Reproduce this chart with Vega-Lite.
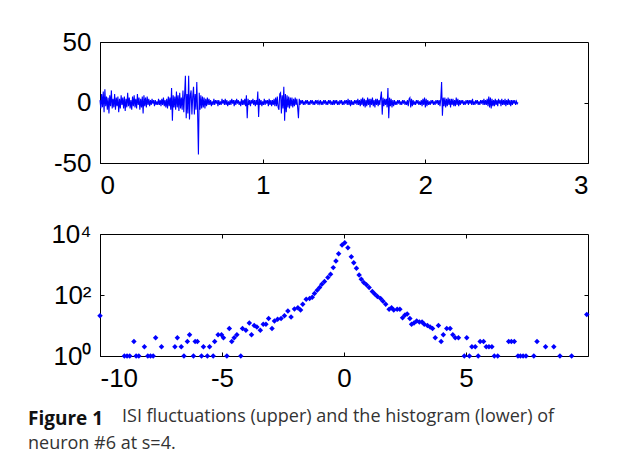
{
  "$schema": "https://vega.github.io/schema/vega-lite/v6.json",
  "autosize": {"type": "pad"},
  "padding": {"left": 27, "top": 28, "right": 5, "bottom": 5},
  "background": "white",
  "spacing": 71,
  "bounds": "flush",
  "title": {"text": "ISI fluctuations (upper) and the histogram (lower) of", "orient": "bottom", "anchor": "start", "frame": "group", "dx": 22, "dy": -50, "font": "Open Sans", "fontSize": 18, "fontWeight": "normal", "color": "#333333"},
  "config": {
    "view": {"stroke": "#000000", "strokeWidth": 1},
    "axis": {"labelFont": "Liberation Sans", "labelFontSize": 26, "labelColor": "#000000", "domainColor": "#000000", "tickColor": "#000000", "tickSize": -4, "labelPadding": 13, "grid": false, "title": null, "labelExpr": "'' + datum.value"}
  },
  "datasets": {
    "sig": [
      {"t":0,"v":2},{"t":0.005,"v":-5},{"t":0.01,"v":7},{"t":0.015,"v":-4},{"t":0.02,"v":9},{"t":0.025,"v":-8},{"t":0.03,"v":11},{"t":0.035,"v":-3},{"t":0.04,"v":5},{"t":0.045,"v":-6},
      {"t":0.05,"v":4},{"t":0.055,"v":-9},{"t":0.06,"v":6},{"t":0.065,"v":-3},{"t":0.07,"v":10},{"t":0.075,"v":-5},{"t":0.08,"v":3},{"t":0.085,"v":-4},{"t":0.09,"v":7},{"t":0.095,"v":-6},
      {"t":0.1,"v":4},{"t":0.105,"v":-3},{"t":0.11,"v":5},{"t":0.115,"v":-8},{"t":0.12,"v":3},{"t":0.125,"v":-5},{"t":0.13,"v":6},{"t":0.135,"v":-2},{"t":0.14,"v":4},{"t":0.145,"v":-5},
      {"t":0.15,"v":5},{"t":0.155,"v":-7},{"t":0.16,"v":3},{"t":0.165,"v":-4},{"t":0.17,"v":8},{"t":0.175,"v":-3},{"t":0.18,"v":4},{"t":0.185,"v":-5},{"t":0.19,"v":2},{"t":0.195,"v":-6},
      {"t":0.2,"v":5},{"t":0.205,"v":-3},{"t":0.21,"v":6},{"t":0.215,"v":-4},{"t":0.22,"v":3},{"t":0.225,"v":-5},{"t":0.23,"v":7},{"t":0.235,"v":-2},{"t":0.24,"v":4},{"t":0.245,"v":-6},
      {"t":0.25,"v":3},{"t":0.255,"v":-4},{"t":0.26,"v":5},{"t":0.265,"v":-9},{"t":0.27,"v":6},{"t":0.275,"v":-3},{"t":0.28,"v":4},{"t":0.285,"v":-4},{"t":0.29,"v":5},{"t":0.295,"v":-2},
      {"t":0.3,"v":3},{"t":0.305,"v":-3},{"t":0.31,"v":2},{"t":0.315,"v":-2},{"t":0.32,"v":3},{"t":0.325,"v":-1},{"t":0.33,"v":2},{"t":0.335,"v":-3},{"t":0.34,"v":2},{"t":0.345,"v":-2},
      {"t":0.35,"v":1},{"t":0.355,"v":-2},{"t":0.36,"v":3},{"t":0.365,"v":-2},{"t":0.37,"v":2},{"t":0.375,"v":-3},{"t":0.38,"v":3},{"t":0.385,"v":-2},{"t":0.39,"v":4},{"t":0.395,"v":-3},
      {"t":0.4,"v":2},{"t":0.405,"v":-4},{"t":0.41,"v":3},{"t":0.415,"v":-5},{"t":0.42,"v":5},{"t":0.425,"v":-3},{"t":0.43,"v":4},{"t":0.435,"v":-6},{"t":0.44,"v":12},{"t":0.445,"v":-15},
      {"t":0.45,"v":6},{"t":0.455,"v":-4},{"t":0.46,"v":5},{"t":0.465,"v":-6},{"t":0.47,"v":9},{"t":0.475,"v":-4},{"t":0.48,"v":6},{"t":0.485,"v":-7},{"t":0.49,"v":8},{"t":0.495,"v":-5},
      {"t":0.5,"v":4},{"t":0.505,"v":-6},{"t":0.51,"v":10},{"t":0.515,"v":-8},{"t":0.52,"v":6},{"t":0.525,"v":22},{"t":0.53,"v":-13},{"t":0.535,"v":7},{"t":0.54,"v":-9},{"t":0.545,"v":22},
      {"t":0.55,"v":-14},{"t":0.555,"v":6},{"t":0.56,"v":10},{"t":0.565,"v":-10},{"t":0.57,"v":5},{"t":0.575,"v":13},{"t":0.58,"v":-10},{"t":0.585,"v":7},{"t":0.59,"v":-6},{"t":0.595,"v":17},
      {"t":0.6,"v":-8},{"t":0.605,"v":-43},{"t":0.61,"v":8},{"t":0.615,"v":-6},{"t":0.62,"v":6},{"t":0.625,"v":-5},{"t":0.63,"v":5},{"t":0.635,"v":-4},{"t":0.64,"v":4},{"t":0.645,"v":-5},
      {"t":0.65,"v":3},{"t":0.655,"v":-3},{"t":0.66,"v":4},{"t":0.665,"v":-2},{"t":0.67,"v":3},{"t":0.675,"v":-2},{"t":0.68,"v":2},{"t":0.685,"v":-3},{"t":0.69,"v":1},{"t":0.695,"v":-2},
      {"t":0.7,"v":3},{"t":0.705,"v":-2},{"t":0.71,"v":2},{"t":0.715,"v":-1},{"t":0.72,"v":2},{"t":0.725,"v":-3},{"t":0.73,"v":2},{"t":0.735,"v":-2},{"t":0.74,"v":1},{"t":0.745,"v":-2},
      {"t":0.75,"v":3},{"t":0.755,"v":-1},{"t":0.76,"v":2},{"t":0.765,"v":-2},{"t":0.77,"v":3},{"t":0.775,"v":-2},{"t":0.78,"v":2},{"t":0.785,"v":-3},{"t":0.79,"v":1},{"t":0.795,"v":-2},
      {"t":0.8,"v":2},{"t":0.805,"v":-2},{"t":0.81,"v":3},{"t":0.815,"v":-1},{"t":0.82,"v":2},{"t":0.825,"v":-3},{"t":0.83,"v":2},{"t":0.835,"v":-2},{"t":0.84,"v":3},{"t":0.845,"v":-1},
      {"t":0.85,"v":2},{"t":0.855,"v":-2},{"t":0.86,"v":1},{"t":0.865,"v":-3},{"t":0.87,"v":3},{"t":0.875,"v":-2},{"t":0.88,"v":2},{"t":0.885,"v":-2},{"t":0.89,"v":3},{"t":0.895,"v":-3},
      {"t":0.9,"v":6},{"t":0.905,"v":-13},{"t":0.91,"v":3},{"t":0.915,"v":-2},{"t":0.92,"v":2},{"t":0.925,"v":-3},{"t":0.93,"v":2},{"t":0.935,"v":-1},{"t":0.94,"v":3},{"t":0.945,"v":-2},
      {"t":0.95,"v":2},{"t":0.955,"v":-3},{"t":0.96,"v":2},{"t":0.965,"v":-2},{"t":0.97,"v":9},{"t":0.975,"v":-12},{"t":0.98,"v":3},{"t":0.985,"v":-2},{"t":0.99,"v":2},{"t":0.995,"v":-3},
      {"t":1.0,"v":1},{"t":1.005,"v":-2},{"t":1.01,"v":3},{"t":1.015,"v":-2},{"t":1.02,"v":2},{"t":1.025,"v":-1},{"t":1.03,"v":2},{"t":1.035,"v":-3},{"t":1.04,"v":3},{"t":1.045,"v":-2},
      {"t":1.05,"v":2},{"t":1.055,"v":-3},{"t":1.06,"v":2},{"t":1.065,"v":-2},{"t":1.07,"v":3},{"t":1.075,"v":-3},{"t":1.08,"v":4},{"t":1.085,"v":-3},{"t":1.09,"v":5},{"t":1.095,"v":-4},
      {"t":1.1,"v":-6},{"t":1.105,"v":7},{"t":1.11,"v":8},{"t":1.115,"v":-9},{"t":1.12,"v":6},{"t":1.125,"v":-5},{"t":1.13,"v":13},{"t":1.135,"v":-15},{"t":1.14,"v":7},{"t":1.145,"v":-8},
      {"t":1.15,"v":6},{"t":1.155,"v":-4},{"t":1.16,"v":5},{"t":1.165,"v":-5},{"t":1.17,"v":4},{"t":1.175,"v":-3},{"t":1.18,"v":4},{"t":1.185,"v":-4},{"t":1.19,"v":3},{"t":1.195,"v":-3},
      {"t":1.2,"v":4},{"t":1.205,"v":-2},{"t":1.21,"v":3},{"t":1.215,"v":-4},{"t":1.22,"v":-13},{"t":1.225,"v":3},{"t":1.23,"v":-2},{"t":1.235,"v":2},{"t":1.24,"v":-1},{"t":1.245,"v":2},
      {"t":1.25,"v":-2},{"t":1.255,"v":1},{"t":1.26,"v":-2},{"t":1.265,"v":2},{"t":1.27,"v":-1},{"t":1.275,"v":2},{"t":1.28,"v":-2},{"t":1.285,"v":1},{"t":1.29,"v":-2},{"t":1.295,"v":2},
      {"t":1.3,"v":-1},{"t":1.305,"v":2},{"t":1.31,"v":-2},{"t":1.315,"v":1},{"t":1.32,"v":-2},{"t":1.325,"v":2},{"t":1.33,"v":-1},{"t":1.335,"v":2},{"t":1.34,"v":-2},{"t":1.345,"v":1},
      {"t":1.35,"v":-1},{"t":1.355,"v":2},{"t":1.36,"v":-2},{"t":1.365,"v":1},{"t":1.37,"v":-2},{"t":1.375,"v":2},{"t":1.38,"v":-1},{"t":1.385,"v":2},{"t":1.39,"v":-2},{"t":1.395,"v":1},
      {"t":1.4,"v":-2},{"t":1.405,"v":2},{"t":1.41,"v":-1},{"t":1.415,"v":2},{"t":1.42,"v":-2},{"t":1.425,"v":1},{"t":1.43,"v":-2},{"t":1.435,"v":2},{"t":1.44,"v":-2},{"t":1.445,"v":2},
      {"t":1.45,"v":-1},{"t":1.455,"v":2},{"t":1.46,"v":-2},{"t":1.465,"v":1},{"t":1.47,"v":-2},{"t":1.475,"v":2},{"t":1.48,"v":-1},{"t":1.485,"v":2},{"t":1.49,"v":-2},{"t":1.495,"v":1},
      {"t":1.5,"v":-2},{"t":1.505,"v":2},{"t":1.51,"v":-1},{"t":1.515,"v":2},{"t":1.52,"v":-2},{"t":1.525,"v":3},{"t":1.53,"v":-2},{"t":1.535,"v":2},{"t":1.54,"v":-3},{"t":1.545,"v":2},
      {"t":1.55,"v":-2},{"t":1.555,"v":1},{"t":1.56,"v":-2},{"t":1.565,"v":2},{"t":1.57,"v":-1},{"t":1.575,"v":2},{"t":1.58,"v":-2},{"t":1.585,"v":3},{"t":1.59,"v":-2},{"t":1.595,"v":2},
      {"t":1.6,"v":-3},{"t":1.605,"v":3},{"t":1.61,"v":-2},{"t":1.615,"v":4},{"t":1.62,"v":-3},{"t":1.625,"v":3},{"t":1.63,"v":-4},{"t":1.635,"v":2},{"t":1.64,"v":-3},{"t":1.645,"v":4},
      {"t":1.65,"v":-2},{"t":1.655,"v":3},{"t":1.66,"v":-4},{"t":1.665,"v":3},{"t":1.67,"v":-2},{"t":1.675,"v":4},{"t":1.68,"v":-3},{"t":1.685,"v":2},{"t":1.69,"v":-4},{"t":1.695,"v":3},
      {"t":1.7,"v":-2},{"t":1.705,"v":3},{"t":1.71,"v":-3},{"t":1.715,"v":2},{"t":1.72,"v":-2},{"t":1.725,"v":4},{"t":1.73,"v":9},{"t":1.735,"v":-10},{"t":1.74,"v":4},{"t":1.745,"v":-3},
      {"t":1.75,"v":3},{"t":1.755,"v":-2},{"t":1.76,"v":3},{"t":1.765,"v":-4},{"t":1.77,"v":12},{"t":1.775,"v":-13},{"t":1.78,"v":4},{"t":1.785,"v":-3},{"t":1.79,"v":3},{"t":1.795,"v":-4},
      {"t":1.8,"v":2},{"t":1.805,"v":-3},{"t":1.81,"v":2},{"t":1.815,"v":-2},{"t":1.82,"v":1},{"t":1.825,"v":-2},{"t":1.83,"v":2},{"t":1.835,"v":-1},{"t":1.84,"v":2},{"t":1.845,"v":-2},
      {"t":1.85,"v":1},{"t":1.855,"v":-2},{"t":1.86,"v":2},{"t":1.865,"v":-1},{"t":1.87,"v":2},{"t":1.875,"v":-2},{"t":1.88,"v":1},{"t":1.885,"v":-2},{"t":1.89,"v":2},{"t":1.895,"v":-3},
      {"t":1.9,"v":3},{"t":1.905,"v":4},{"t":1.91,"v":-4},{"t":1.915,"v":3},{"t":1.92,"v":-3},{"t":1.925,"v":2},{"t":1.93,"v":-2},{"t":1.935,"v":1},{"t":1.94,"v":-2},{"t":1.945,"v":2},
      {"t":1.95,"v":-1},{"t":1.955,"v":2},{"t":1.96,"v":-2},{"t":1.965,"v":1},{"t":1.97,"v":-2},{"t":1.975,"v":2},{"t":1.98,"v":-3},{"t":1.985,"v":3},{"t":1.99,"v":-2},{"t":1.995,"v":4},
      {"t":2.0,"v":-4},{"t":2.005,"v":3},{"t":2.01,"v":-3},{"t":2.015,"v":2},{"t":2.02,"v":-2},{"t":2.025,"v":1},{"t":2.03,"v":-2},{"t":2.035,"v":2},{"t":2.04,"v":-1},{"t":2.045,"v":2},
      {"t":2.05,"v":-2},{"t":2.055,"v":1},{"t":2.06,"v":-2},{"t":2.065,"v":2},{"t":2.07,"v":-1},{"t":2.075,"v":2},{"t":2.08,"v":-2},{"t":2.085,"v":2},{"t":2.09,"v":-3},{"t":2.095,"v":3},
      {"t":2.1,"v":17},{"t":2.105,"v":-11},{"t":2.11,"v":4},{"t":2.115,"v":-3},{"t":2.12,"v":4},{"t":2.125,"v":-4},{"t":2.13,"v":3},{"t":2.135,"v":-3},{"t":2.14,"v":4},{"t":2.145,"v":-2},
      {"t":2.15,"v":3},{"t":2.155,"v":-4},{"t":2.16,"v":3},{"t":2.165,"v":-2},{"t":2.17,"v":3},{"t":2.175,"v":-3},{"t":2.18,"v":2},{"t":2.185,"v":-3},{"t":2.19,"v":4},{"t":2.195,"v":-2},
      {"t":2.2,"v":3},{"t":2.205,"v":-3},{"t":2.21,"v":2},{"t":2.215,"v":-2},{"t":2.22,"v":2},{"t":2.225,"v":-1},{"t":2.23,"v":2},{"t":2.235,"v":-2},{"t":2.24,"v":1},{"t":2.245,"v":-2},
      {"t":2.25,"v":2},{"t":2.255,"v":-1},{"t":2.26,"v":2},{"t":2.265,"v":-2},{"t":2.27,"v":2},{"t":2.275,"v":-1},{"t":2.28,"v":2},{"t":2.285,"v":-2},{"t":2.29,"v":3},{"t":2.295,"v":-2},
      {"t":2.3,"v":1},{"t":2.305,"v":-2},{"t":2.31,"v":2},{"t":2.315,"v":-1},{"t":2.32,"v":2},{"t":2.325,"v":-2},{"t":2.33,"v":1},{"t":2.335,"v":-2},{"t":2.34,"v":2},{"t":2.345,"v":-1},
      {"t":2.35,"v":2},{"t":2.355,"v":-2},{"t":2.36,"v":3},{"t":2.365,"v":-2},{"t":2.37,"v":2},{"t":2.375,"v":-2},{"t":2.38,"v":3},{"t":2.385,"v":-3},{"t":2.39,"v":5},{"t":2.395,"v":-4},
      {"t":2.4,"v":4},{"t":2.405,"v":-5},{"t":2.41,"v":3},{"t":2.415,"v":-3},{"t":2.42,"v":2},{"t":2.425,"v":-3},{"t":2.43,"v":3},{"t":2.435,"v":-2},{"t":2.44,"v":2},{"t":2.445,"v":-3},
      {"t":2.45,"v":3},{"t":2.455,"v":-1},{"t":2.46,"v":2},{"t":2.465,"v":-3},{"t":2.47,"v":3},{"t":2.475,"v":-2},{"t":2.48,"v":2},{"t":2.485,"v":-2},{"t":2.49,"v":3},{"t":2.495,"v":-3},
      {"t":2.5,"v":2},{"t":2.505,"v":-2},{"t":2.51,"v":3},{"t":2.515,"v":-2},{"t":2.52,"v":2},{"t":2.525,"v":-3},{"t":2.53,"v":2},{"t":2.535,"v":-2},{"t":2.54,"v":2},{"t":2.545,"v":-1},
      {"t":2.55,"v":2},{"t":2.555,"v":-2},{"t":2.56,"v":1},{"t":2.565,"v":-1},{"t":2.57,"v":0}
    ],
    "hist": [
      {"x":-10,"c":21},
      {"x":-9.0,"c":1},{"x":-8.89,"c":1},{"x":-8.78,"c":1},{"x":-8.61,"c":3},{"x":-8.52,"c":1},{"x":-8.41,"c":1},{"x":-8.18,"c":2},{"x":-8.04,"c":1},{"x":-7.93,"c":1},{"x":-7.82,"c":1},
      {"x":-7.72,"c":4},{"x":-7.48,"c":2},{"x":-6.93,"c":2},{"x":-6.83,"c":4},{"x":-6.67,"c":2},{"x":-6.56,"c":1},{"x":-6.42,"c":3},{"x":-6.33,"c":5},{"x":-6.17,"c":1},{"x":-6.10,"c":3},
      {"x":-6.01,"c":3},{"x":-5.84,"c":1},{"x":-5.76,"c":2},{"x":-5.60,"c":1},{"x":-5.51,"c":2},{"x":-5.36,"c":1},{"x":-5.30,"c":3},{"x":-5.16,"c":5},{"x":-5.02,"c":5},{"x":-4.94,"c":4},
      {"x":-4.80,"c":1},{"x":-4.70,"c":8},{"x":-4.60,"c":3},{"x":-4.50,"c":4},{"x":-4.39,"c":5},{"x":-4.23,"c":1},{"x":-4.16,"c":8},{"x":-4.02,"c":7},{"x":-3.88,"c":12},{"x":-3.79,"c":5},
      {"x":-3.68,"c":10},{"x":-3.57,"c":9},{"x":-3.43,"c":7},{"x":-3.31,"c":11},{"x":-3.20,"c":11},{"x":-3.09,"c":17},{"x":-2.95,"c":8},{"x":-2.85,"c":14},{"x":-2.72,"c":16},{"x":-2.58,"c":17},
      {"x":-2.44,"c":21},{"x":-2.30,"c":30},{"x":-2.17,"c":19},{"x":-2.03,"c":35},{"x":-1.89,"c":38},{"x":-1.78,"c":32},{"x":-1.69,"c":50},{"x":-1.55,"c":73},{"x":-1.41,"c":77},{"x":-1.30,"c":85},
      {"x":-1.21,"c":112},{"x":-1.10,"c":144},{"x":-1.00,"c":175},{"x":-0.91,"c":225},{"x":-0.80,"c":276},{"x":-0.66,"c":374},{"x":-0.55,"c":480},{"x":-0.44,"c":790},{"x":-0.33,"c":1310},{"x":-0.22,"c":2270},
      {"x":-0.08,"c":4360},{"x":0.03,"c":5200},{"x":0.16,"c":3550},{"x":0.30,"c":1780},{"x":0.40,"c":1150},{"x":0.51,"c":755},{"x":0.62,"c":455},{"x":0.71,"c":330},{"x":0.81,"c":255},{"x":0.92,"c":215},
      {"x":1.03,"c":175},{"x":1.16,"c":130},{"x":1.26,"c":107},{"x":1.37,"c":90},{"x":1.50,"c":77},{"x":1.60,"c":62},{"x":1.71,"c":50},{"x":1.85,"c":34},{"x":1.95,"c":38},{"x":2.04,"c":32},
      {"x":2.18,"c":34},{"x":2.29,"c":34},{"x":2.40,"c":18},{"x":2.50,"c":22},{"x":2.59,"c":24},{"x":2.70,"c":17},{"x":2.77,"c":11},{"x":2.87,"c":12},{"x":2.98,"c":14},{"x":3.09,"c":13},
      {"x":3.20,"c":13},{"x":3.29,"c":11},{"x":3.42,"c":10},{"x":3.53,"c":9},{"x":3.63,"c":8},{"x":3.74,"c":4},{"x":3.87,"c":10},{"x":3.98,"c":3},{"x":4.07,"c":5},{"x":4.21,"c":8},
      {"x":4.35,"c":8},{"x":4.46,"c":5},{"x":4.56,"c":4},{"x":4.69,"c":4},{"x":4.93,"c":1},{"x":5.03,"c":4},{"x":5.14,"c":1},{"x":5.24,"c":2},{"x":5.38,"c":2},{"x":5.50,"c":1},
      {"x":5.58,"c":3},{"x":5.72,"c":3},{"x":5.83,"c":2},{"x":5.94,"c":2},{"x":6.06,"c":2},{"x":6.16,"c":1},{"x":6.30,"c":1},{"x":6.75,"c":3},{"x":6.86,"c":3},{"x":6.98,"c":3},
      {"x":7.13,"c":1},{"x":7.23,"c":1},{"x":7.34,"c":1},{"x":7.46,"c":1},{"x":7.78,"c":1},{"x":7.91,"c":3},{"x":8.26,"c":2},{"x":8.60,"c":2},{"x":8.85,"c":1},{"x":9.33,"c":1},
      {"x":9.95,"c":23}
    ]
  },
  "vconcat": [
    {
      "width": 488,
      "height": 121,
      "data": {"name": "sig"},
      "layer": [
        {
          "mark": {"type": "line", "color": "#0000ff", "strokeWidth": 1.1},
          "encoding": {
            "x": {"field": "t", "type": "quantitative", "scale": {"domain": [0, 3], "nice": false, "zero": false}, "axis": {"values": [0, 1, 2, 3], "orient": "bottom", "title": null}},
            "y": {"field": "v", "type": "quantitative", "scale": {"domain": [-50, 50], "nice": false}, "axis": {"values": [-50, 0, 50], "orient": "left", "title": null}}
          }
        },
        {
          "mark": {"type": "point", "opacity": 0},
          "encoding": {
            "x": {"field": "t", "type": "quantitative", "axis": {"values": [1, 2], "orient": "top", "labels": false, "domain": false, "title": null}},
            "y": {"field": "v", "type": "quantitative", "axis": {"values": [0], "orient": "right", "labels": false, "domain": false, "title": null}}
          }
        }
      ],
      "resolve": {"axis": {"x": "independent", "y": "independent"}}
    },
    {
      "width": 488,
      "height": 122,
      "data": {"name": "hist"},
      "title": {"text": "Figure 1", "subtitle": "neuron #6 at s=4.", "orient": "bottom", "anchor": "start", "frame": "group", "dx": -72, "font": "Open Sans", "fontSize": 19, "fontWeight": "bold", "color": "#111111", "subtitleFont": "Open Sans", "subtitleFontSize": 18, "subtitleColor": "#333333", "subtitlePadding": 6, "offset": 19},
      "layer": [
        {
          "mark": {"type": "point", "shape": "diamond", "filled": true, "size": 30, "color": "#0000ff", "opacity": 1},
          "encoding": {
            "x": {"field": "x", "type": "quantitative", "scale": {"domain": [-10, 10], "nice": false}, "axis": {"values": [-10, -5, 0, 5], "orient": "bottom", "title": null}},
            "y": {"field": "c", "type": "quantitative", "scale": {"type": "log", "domain": [1, 10000], "nice": false}, "axis": {"values": [1, 100, 10000], "orient": "left", "title": null, "labelExpr": "datum.value == 1 ? '10⁰' : datum.value == 100 ? '10²' : '10⁴'"}}
          }
        },
        {
          "mark": {"type": "point", "opacity": 0},
          "encoding": {
            "x": {"field": "x", "type": "quantitative", "axis": {"values": [-5, 0, 5], "orient": "top", "labels": false, "domain": false, "title": null}},
            "y": {"field": "c", "type": "quantitative", "axis": {"values": [100], "orient": "right", "labels": false, "domain": false, "title": null}}
          }
        }
      ],
      "resolve": {"axis": {"x": "independent", "y": "independent"}}
    }
  ]
}
